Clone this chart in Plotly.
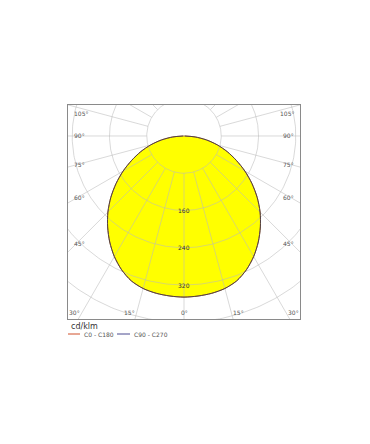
import numpy as np
import plotly.graph_objects as go

# gamma angles (deg) and luminous intensity (cd/klm)
gamma = [0, 5, 10, 15, 20, 25, 30, 35, 40, 45, 50, 55, 60, 65, 70, 75, 80, 85, 90]
c0_c180 = [346, 345, 343, 339, 331, 317, 299, 278, 255, 231, 205, 178, 151, 124, 99, 74, 49, 24, 1]
c90_c270 = [346, 345, 343, 339, 331, 317, 299, 278, 255, 231, 205, 178, 151, 124, 99, 74, 49, 24, 1]

ring_values = [80, 160, 240, 320, 400, 480]
ring_labels = ["160", "240", "320"]
spoke_angles = list(range(-180, 181, 15))
angle_label_values = [0, 15, 30, 45, 60, 75, 90, 105]

legend_names = ["C0 - C180", "C90 - C270"]
unit_label = "cd/klm"

XR = [-249, 249]
YR = [-393, 66.5]


def to_xy(ang_deg, r):
    a = np.radians(np.asarray(ang_deg, dtype=float))
    r = np.asarray(r, dtype=float)
    return r * np.sin(a), -r * np.cos(a)


def full_curve(vals):
    angs = [-g for g in gamma[::-1]] + gamma[1:]
    rs = list(vals[::-1]) + list(vals[1:])
    return to_xy(angs, rs)


fig = go.Figure()

# fill
fx, fy = full_curve(c90_c270)
fig.add_trace(go.Scatter(x=fx, y=fy, mode="lines", fill="toself",
                         fillcolor="#ffff00", line=dict(width=0, shape="spline", smoothing=0.8),
                         hoverinfo="skip", showlegend=False))

grid_col = "rgba(185,185,185,0.55)"
# rings
th = np.linspace(0, 360, 361)
for rv in ring_values:
    gx, gy = to_xy(th, np.full_like(th, rv))
    fig.add_trace(go.Scatter(x=gx, y=gy, mode="lines",
                             line=dict(color=grid_col, width=1),
                             hoverinfo="skip", showlegend=False))
# spokes
for a in spoke_angles:
    sx, sy = to_xy([a, a], [ring_values[0], 700])
    fig.add_trace(go.Scatter(x=sx, y=sy, mode="lines",
                             line=dict(color=grid_col, width=1),
                             hoverinfo="skip", showlegend=False))

# outlines
cx, cy = full_curve(c0_c180)
fig.add_trace(go.Scatter(x=cx, y=cy, mode="lines", name=legend_names[0],
                         line=dict(color="#b06030", width=1, shape="spline", smoothing=0.8),
                         showlegend=False))
dx, dy = full_curve(c90_c270)
fig.add_trace(go.Scatter(x=dx, y=dy, mode="lines", name=legend_names[1],
                         line=dict(color="#3a3a48", width=1, shape="spline", smoothing=0.8),
                         opacity=0.8, showlegend=False))

ann = []
lab_font = dict(family="DejaVu Sans", size=6, color="#555555")
# ring labels
for t in ring_labels:
    ann.append(dict(x=0, y=-float(t), text=t, showarrow=False,
                    font=dict(family="DejaVu Sans", size=6, color="#333333"),
                    xanchor="center", yanchor="middle"))

# angle labels
for a in angle_label_values:
    rad = np.radians(a)
    if a <= 30:
        yb = -380
        xb = 380 * np.tan(rad)
        for side in ([1] if a == 0 else [1, -1]):
            ann.append(dict(x=side * xb, y=yb, text=f"{a}°", showarrow=False,
                            font=lab_font,
                            xanchor="center" if a == 0 else ("left" if side > 0 else "right"),
                            yanchor="middle"))
    else:
        xs = 230
        yb = -xs / np.tan(rad)
        yb = min(yb, 49)
        for side in [1, -1]:
            ann.append(dict(x=side * 240, y=yb, text=f"{a}°", showarrow=False,
                            font=lab_font,
                            xanchor="right" if side > 0 else "left",
                            yanchor="middle"))

# legend (paper coords)
W, H = 232.0, 214.0
def px(x):
    return (x - 68) / W
def py(y):
    return (319 - y) / H

ann.append(dict(x=px(69), y=py(326), xref="paper", yref="paper", text=unit_label,
                showarrow=False, xanchor="left", yanchor="middle",
                font=dict(family="DejaVu Sans", size=8, color="#333333")))
ann.append(dict(x=px(82), y=py(334), xref="paper", yref="paper", text=legend_names[0],
                showarrow=False, xanchor="left", yanchor="middle",
                font=dict(family="DejaVu Sans", size=6, color="#555555")))
ann.append(dict(x=px(132), y=py(334), xref="paper", yref="paper", text=legend_names[1],
                showarrow=False, xanchor="left", yanchor="middle",
                font=dict(family="DejaVu Sans", size=6, color="#555555")))
shapes = [
    dict(type="line", xref="paper", yref="paper", x0=px(68), x1=px(80),
         y0=py(334), y1=py(334), line=dict(color="#d0502a", width=1)),
    dict(type="line", xref="paper", yref="paper", x0=px(117), x1=px(130),
         y0=py(334), y1=py(334), line=dict(color="#4a4a90", width=1)),
]

fig.update_layout(
    width=370, height=444,
    margin=dict(l=68, r=70, t=105, b=125, pad=0),
    paper_bgcolor="white", plot_bgcolor="white",
    showlegend=False,
    annotations=ann, shapes=shapes,
    xaxis=dict(range=XR, showgrid=False, zeroline=False, showticklabels=False,
               ticks="", showline=True, mirror=True, linecolor="#8a8a8a",
               linewidth=1, fixedrange=True),
    yaxis=dict(range=YR, showgrid=False, zeroline=False, showticklabels=False,
               ticks="", showline=True, mirror=True, linecolor="#8a8a8a",
               linewidth=1, fixedrange=True),
)

fig.write_html("out.html")
